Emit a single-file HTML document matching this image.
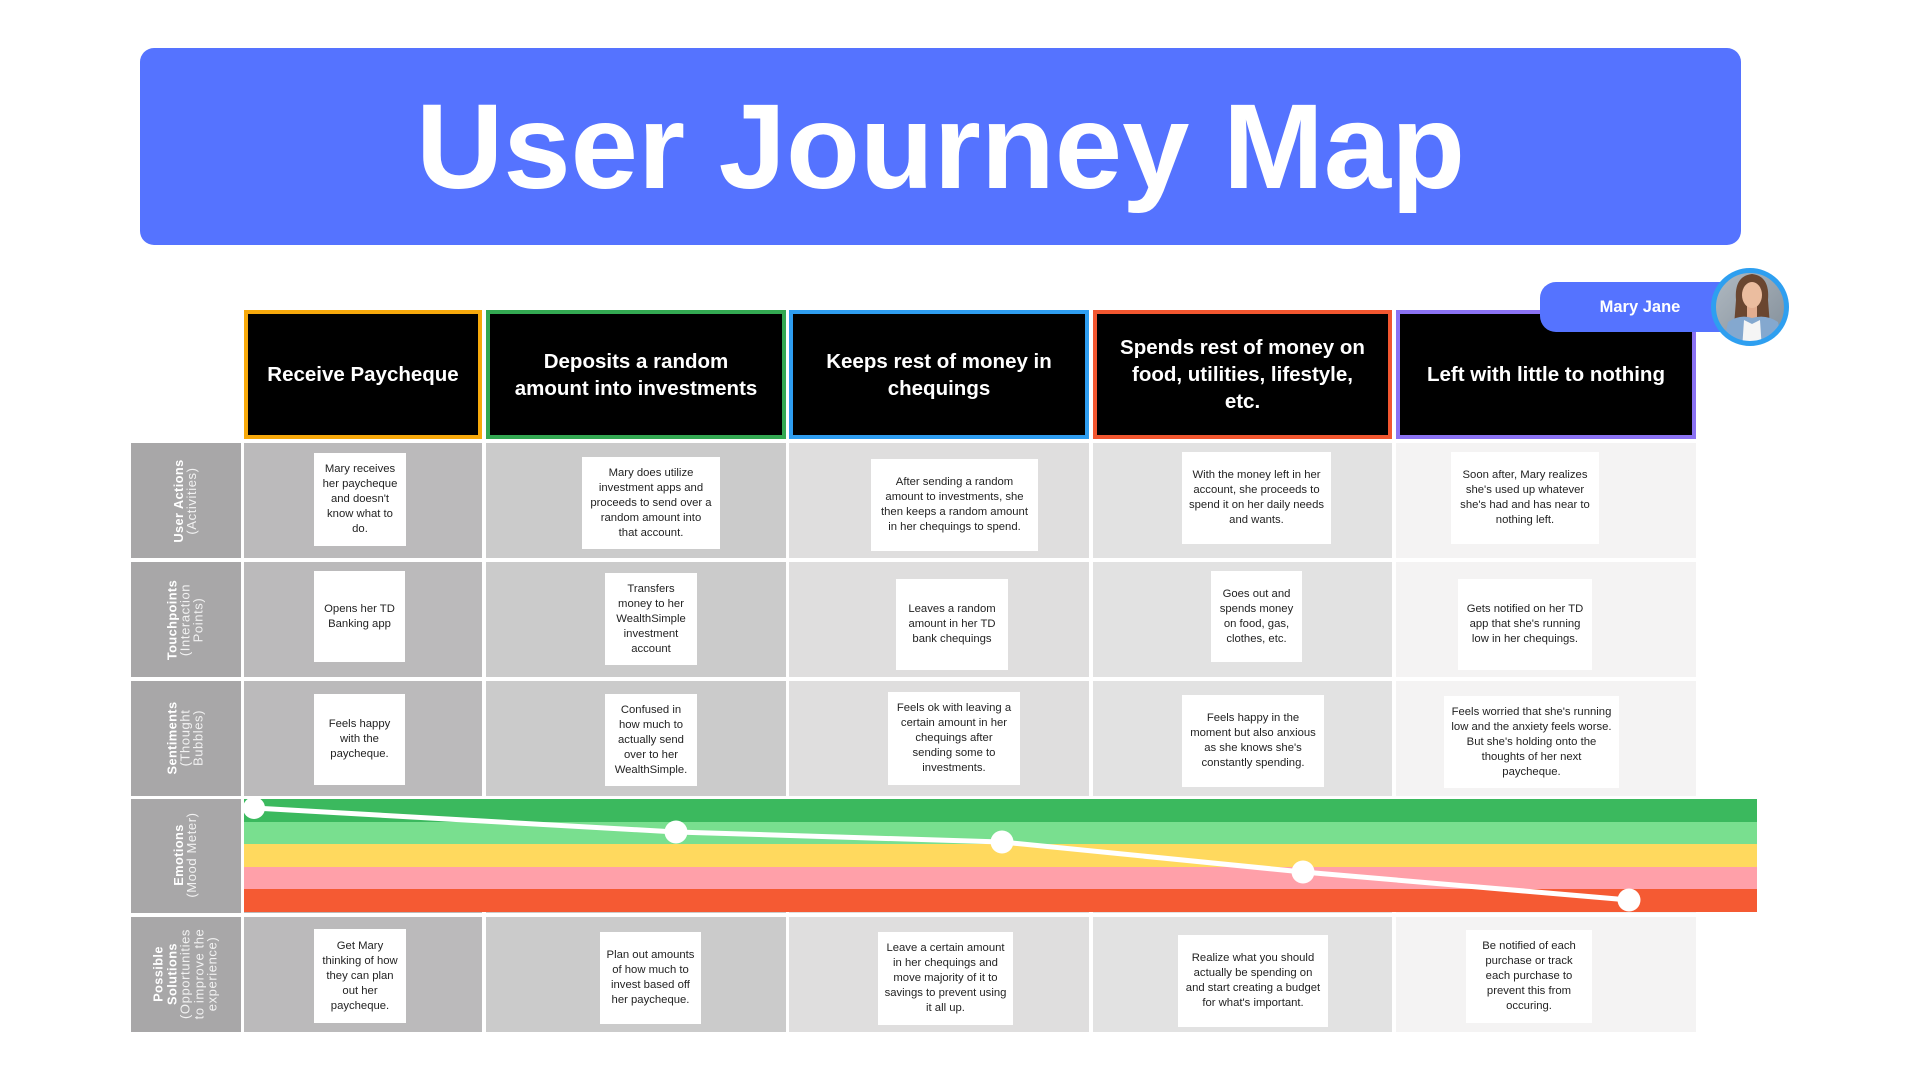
<!DOCTYPE html>
<html><head><meta charset="utf-8">
<style>
*{box-sizing:border-box;margin:0;padding:0}
html,body{width:1920px;height:1080px;overflow:hidden;background:#fff}
body{position:relative;font-family:"Liberation Sans",Arial,sans-serif}
.abs{position:absolute}
.title{position:absolute;left:140px;top:48px;width:1601px;height:197px;background:#5573ff;border-radius:14px}
.ttext{position:absolute;left:140px;width:1601px;top:85px;height:122px;line-height:122px;font-size:121px;font-weight:bold;color:#fff;text-align:center;white-space:nowrap}
.hd{position:absolute;top:310px;height:129px;background:#000;border:4px solid;display:flex;align-items:center;justify-content:center;text-align:center;color:#fff;font-weight:bold;font-size:20.5px;line-height:27px;white-space:nowrap}
.cell{position:absolute}
.box{position:absolute;background:#fff;display:flex;align-items:center;justify-content:center;text-align:center;font-size:11.3px;line-height:15px;color:#232323;white-space:nowrap}
.lw{position:absolute;left:185px;width:0;height:0}
.lbl{position:absolute;left:0;top:0;transform:translate(-50%,-50%) rotate(-90deg);color:#fff;text-align:center;white-space:nowrap;font-size:13px;line-height:13px}
.lbl b{font-weight:bold;font-size:12.8px;letter-spacing:0.4px}
.lbl span{font-weight:normal;letter-spacing:0.6px;color:#f2f2f2}
.band{position:absolute;left:244px;width:1513px;height:22.5px}
</style></head><body>

<div class="title"></div>
<div class="ttext">User Journey Map</div>

<!-- headers -->
<div class="hd" style="left:244px;width:238px;border-color:#f7a90b">Receive Paycheque</div>
<div class="hd" style="left:486px;width:300px;border-color:#33a852">Deposits a random<br>amount into investments</div>
<div class="hd" style="left:789px;width:300px;border-color:#2e9df0">Keeps rest of money in<br>chequings</div>
<div class="hd" style="left:1093px;width:299px;border-color:#f2562f">Spends rest of money on<br>food, utilities, lifestyle,<br>etc.</div>
<div class="hd" style="left:1396px;width:300px;border-color:#8b72f3">Left with little to nothing</div>

<!-- Mary Jane badge -->
<div class="abs" style="left:1540px;top:282px;width:212px;height:50px;background:#5573ff;border-radius:16px"></div>
<div class="abs" style="left:1540px;top:282px;width:200px;height:50px;line-height:50px;text-align:center;color:#fff;font-weight:bold;font-size:16.5px">Mary Jane</div>
<svg class="abs" style="left:0;top:0" width="1920" height="1080" viewBox="0 0 1920 1080">
  <defs><clipPath id="av"><circle cx="1750" cy="307" r="34.5"/></clipPath>
  <linearGradient id="bgg" x1="0" y1="0" x2="1" y2="1"><stop offset="0" stop-color="#b3bcc4"/><stop offset="1" stop-color="#7f8b96"/></linearGradient></defs>
  <g clip-path="url(#av)">
    <rect x="1710" y="268" width="80" height="80" fill="url(#bgg)"/>
    <path d="M1736 300 Q1734 276 1752 274 Q1770 276 1768 300 L1770 326 L1734 326 Z" fill="#6a4630"/>
    <rect x="1747" y="305" width="10" height="14" fill="#e2ad90"/>
    <ellipse cx="1752" cy="295" rx="10" ry="13" fill="#ebbd9f"/>
    <path d="M1722 350 L1728 322 Q1740 314 1752 318 Q1766 314 1778 322 L1784 350 Z" fill="#84a8cf"/>
    <path d="M1742 350 L1744 320 L1752 324 L1760 320 L1762 350 Z" fill="#f5f5f5"/>
  </g>
  <circle cx="1750" cy="307" r="36.5" fill="none" stroke="#2e9ff0" stroke-width="5"/>
</svg>

<!-- label column -->
<div class="cell" style="left:131px;top:443px;width:110px;height:115px;background:#a8a7a8"></div>
<div class="cell" style="left:131px;top:562px;width:110px;height:115px;background:#a8a7a8"></div>
<div class="cell" style="left:131px;top:681px;width:110px;height:115px;background:#a8a7a8"></div>
<div class="cell" style="left:131px;top:799px;width:110px;height:114px;background:#a8a7a8"></div>
<div class="cell" style="left:131px;top:917px;width:110px;height:115px;background:#a8a7a8"></div>

<!-- column cells -->
<div class="cell" style="left:244px;top:443px;width:238px;height:115px;background:#bbbabb"></div>
<div class="cell" style="left:244px;top:562px;width:238px;height:115px;background:#bbbabb"></div>
<div class="cell" style="left:244px;top:681px;width:238px;height:115px;background:#bbbabb"></div>
<div class="cell" style="left:244px;top:799px;width:238px;height:114px;background:#bbbabb"></div>
<div class="cell" style="left:244px;top:917px;width:238px;height:115px;background:#bbbabb"></div>

<div class="cell" style="left:486px;top:443px;width:300px;height:115px;background:#cbcbcb"></div>
<div class="cell" style="left:486px;top:562px;width:300px;height:115px;background:#cbcbcb"></div>
<div class="cell" style="left:486px;top:681px;width:300px;height:115px;background:#cbcbcb"></div>
<div class="cell" style="left:486px;top:799px;width:300px;height:114px;background:#cbcbcb"></div>
<div class="cell" style="left:486px;top:917px;width:300px;height:115px;background:#cbcbcb"></div>

<div class="cell" style="left:789px;top:443px;width:300px;height:115px;background:#dfdede"></div>
<div class="cell" style="left:789px;top:562px;width:300px;height:115px;background:#dfdede"></div>
<div class="cell" style="left:789px;top:681px;width:300px;height:115px;background:#dfdede"></div>
<div class="cell" style="left:789px;top:799px;width:300px;height:114px;background:#dfdede"></div>
<div class="cell" style="left:789px;top:917px;width:300px;height:115px;background:#dfdede"></div>

<div class="cell" style="left:1093px;top:443px;width:299px;height:115px;background:#e2e2e2"></div>
<div class="cell" style="left:1093px;top:562px;width:299px;height:115px;background:#e2e2e2"></div>
<div class="cell" style="left:1093px;top:681px;width:299px;height:115px;background:#e2e2e2"></div>
<div class="cell" style="left:1093px;top:799px;width:299px;height:114px;background:#e2e2e2"></div>
<div class="cell" style="left:1093px;top:917px;width:299px;height:115px;background:#e2e2e2"></div>

<div class="cell" style="left:1396px;top:443px;width:300px;height:115px;background:#f4f3f3"></div>
<div class="cell" style="left:1396px;top:562px;width:300px;height:115px;background:#f4f3f3"></div>
<div class="cell" style="left:1396px;top:681px;width:300px;height:115px;background:#f4f3f3"></div>
<div class="cell" style="left:1396px;top:799px;width:300px;height:114px;background:#f4f3f3"></div>
<div class="cell" style="left:1396px;top:917px;width:300px;height:115px;background:#f4f3f3"></div>

<!-- labels -->
<div class="lw" style="top:501px"><div class="lbl"><b>User Actions</b><br><span>(Activities)</span></div></div>
<div class="lw" style="top:620px"><div class="lbl"><b>Touchpoints</b><br><span>(Interaction<br>Points)</span></div></div>
<div class="lw" style="top:738px"><div class="lbl"><b>Sentiments</b><br><span>(Thought<br>Bubbles)</span></div></div>
<div class="lw" style="top:855px"><div class="lbl"><b>Emotions</b><br><span>(Mood Meter)</span></div></div>
<div class="lw" style="top:974px"><div class="lbl" style="line-height:13.5px"><b>Possible<br>Solutions</b><br><span>(Opportunities<br>to improve the<br>experience)</span></div></div>

<!-- row 1 boxes -->
<div class="box" style="left:314px;top:453px;width:92px;height:93px">Mary receives<br>her paycheque<br>and doesn't<br>know what to<br>do.</div>
<div class="box" style="left:582px;top:457px;width:138px;height:92px">Mary does utilize<br>investment apps and<br>proceeds to send over a<br>random amount into<br>that account.</div>
<div class="box" style="left:871px;top:459px;width:167px;height:92px">After sending a random<br>amount to investments, she<br>then keeps a random amount<br>in her chequings to spend.</div>
<div class="box" style="left:1182px;top:452px;width:149px;height:92px">With the money left in her<br>account, she proceeds to<br>spend it on her daily needs<br>and wants.</div>
<div class="box" style="left:1451px;top:452px;width:148px;height:92px">Soon after, Mary realizes<br>she's used up whatever<br>she's had and has near to<br>nothing left.</div>

<!-- row 2 boxes -->
<div class="box" style="left:314px;top:571px;width:91px;height:91px">Opens her TD<br>Banking app</div>
<div class="box" style="left:605px;top:573px;width:92px;height:92px">Transfers<br>money to her<br>WealthSimple<br>investment<br>account</div>
<div class="box" style="left:896px;top:579px;width:112px;height:91px">Leaves a random<br>amount in her TD<br>bank chequings</div>
<div class="box" style="left:1211px;top:571px;width:91px;height:91px">Goes out and<br>spends money<br>on food, gas,<br>clothes, etc.</div>
<div class="box" style="left:1458px;top:579px;width:134px;height:91px">Gets notified on her TD<br>app that she's running<br>low in her chequings.</div>

<!-- row 3 boxes -->
<div class="box" style="left:314px;top:694px;width:91px;height:91px">Feels happy<br>with the<br>paycheque.</div>
<div class="box" style="left:605px;top:694px;width:92px;height:92px">Confused in<br>how much to<br>actually send<br>over to her<br>WealthSimple.</div>
<div class="box" style="left:888px;top:692px;width:132px;height:93px">Feels ok with leaving a<br>certain amount in her<br>chequings after<br>sending some to<br>investments.</div>
<div class="box" style="left:1182px;top:695px;width:142px;height:92px">Feels happy in the<br>moment but also anxious<br>as she knows she's<br>constantly spending.</div>
<div class="box" style="left:1444px;top:696px;width:175px;height:92px">Feels worried that she's running<br>low and the anxiety feels worse.<br>But she's holding onto the<br>thoughts of her next<br>paycheque.</div>

<!-- emotion bands -->
<div class="band" style="top:799px;background:#3bb95e"></div>
<div class="band" style="top:821.5px;background:#79df8f"></div>
<div class="band" style="top:844px;background:#ffd95e"></div>
<div class="band" style="top:866.5px;background:#ffa0a9"></div>
<div class="band" style="top:889px;background:#f55a33"></div>
<svg class="abs" style="left:0;top:0" width="1920" height="1080" viewBox="0 0 1920 1080">
  <polyline points="254,808 676,832 1002,842 1303,872 1629,900" fill="none" stroke="#fff" stroke-width="5" stroke-linejoin="round"/>
  <circle cx="254" cy="808" r="11" fill="#fff"/>
  <circle cx="676" cy="832" r="11.5" fill="#fff"/>
  <circle cx="1002" cy="842" r="11.5" fill="#fff"/>
  <circle cx="1303" cy="872" r="11.5" fill="#fff"/>
  <circle cx="1629" cy="900" r="11.5" fill="#fff"/>
</svg>

<!-- row 5 boxes -->
<div class="box" style="left:314px;top:929px;width:92px;height:94px">Get Mary<br>thinking of how<br>they can plan<br>out her<br>paycheque.</div>
<div class="box" style="left:600px;top:932px;width:101px;height:92px">Plan out amounts<br>of how much to<br>invest based off<br>her paycheque.</div>
<div class="box" style="left:878px;top:932px;width:135px;height:93px">Leave a certain amount<br>in her chequings and<br>move majority of it to<br>savings to prevent using<br>it all up.</div>
<div class="box" style="left:1178px;top:935px;width:150px;height:92px">Realize what you should<br>actually be spending on<br>and start creating a budget<br>for what's important.</div>
<div class="box" style="left:1466px;top:930px;width:126px;height:93px">Be notified of each<br>purchase or track<br>each purchase to<br>prevent this from<br>occuring.</div>

</body></html>
